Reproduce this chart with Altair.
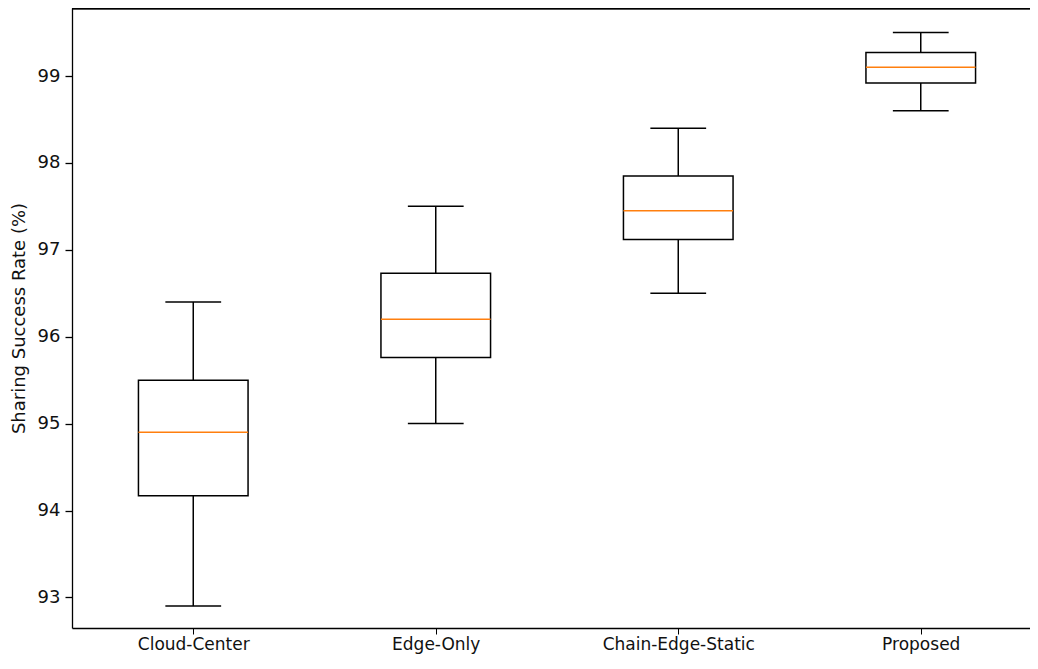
import altair as alt
import pandas as pd

categories = ["Cloud-Center", "Edge-Only", "Chain-Edge-Static", "Proposed"]
positions = [1, 2, 3, 4]
whisker_low = [92.9, 95.0, 96.5, 98.6]
q1 = [94.17, 95.76, 97.12, 98.92]
median = [94.9, 96.2, 97.45, 99.1]
q3 = [95.5, 96.73, 97.85, 99.27]
whisker_high = [96.4, 97.5, 98.4, 99.5]
y_ticks = [93, 94, 95, 96, 97, 98, 99]

df = pd.DataFrame({
    "cat": categories, "pos": positions, "lo": whisker_low, "q1": q1,
    "med": median, "q3": q3, "hi": whisker_high,
})

BOX_HALF = 0.226
CAP_HALF = 0.115
W, H = 958, 620

x_scale = alt.Scale(domain=[0.5, 4.4505], nice=False, zero=False)
y_scale = alt.Scale(domain=[92.648, 99.7825], nice=False, zero=False)

label_expr = ("datum.value == 1 ? 'Cloud-Center' : datum.value == 2 ? 'Edge-Only' : "
              "datum.value == 3 ? 'Chain-Edge-Static' : 'Proposed'")

FONT = "DejaVu Sans"
TXT = "#111111"

base = alt.Chart(df).transform_calculate(
    bl="datum.pos - %f" % BOX_HALF, br="datum.pos + %f" % BOX_HALF,
    cl="datum.pos - %f" % CAP_HALF, cr="datum.pos + %f" % CAP_HALF,
)

x_axis = alt.Axis(values=positions, labelExpr=label_expr, title=None, grid=False,
                  domain=True, domainColor="black", domainWidth=1.3,
                  ticks=True, tickColor="black", tickSize=6, labelPadding=2,
                  labelFont=FONT, labelFontSize=17, labelColor=TXT)
y_axis = alt.Axis(values=y_ticks, format=".0f", title="Sharing Success Rate (%)",
                  grid=False, domain=True, domainColor="black", domainWidth=1.3,
                  ticks=True, tickColor="black", tickWidth=1.3, tickSize=7,
                  labelPadding=5, labelFont=FONT, labelFontSize=18, labelColor=TXT,
                  titleFont=FONT, titleFontSize=18, titleFontWeight="normal",
                  titleColor=TXT, titlePadding=9)

X = lambda f: alt.X(f, scale=x_scale, axis=x_axis)
Y = lambda f: alt.Y(f, scale=y_scale, axis=y_axis)

lower = base.mark_rule(color="black", strokeWidth=1.5).encode(x=X("pos:Q"), y=Y("lo:Q"), y2="q1:Q")
upper = base.mark_rule(color="black", strokeWidth=1.5).encode(x=X("pos:Q"), y=Y("q3:Q"), y2="hi:Q")
cap_lo = base.mark_rule(color="black", strokeWidth=1.5).encode(x=X("cl:Q"), x2="cr:Q", y=Y("lo:Q"))
cap_hi = base.mark_rule(color="black", strokeWidth=1.5).encode(x=X("cl:Q"), x2="cr:Q", y=Y("hi:Q"))
box = base.mark_rect(fill="white", fillOpacity=0, stroke="black", strokeWidth=1.5).encode(
    x=X("bl:Q"), x2="br:Q", y=Y("q1:Q"), y2="q3:Q")
med = base.mark_rule(color="#ff7f0e", strokeWidth=1.5).encode(
    x=X("bl:Q"), x2="br:Q", y=Y("med:Q"))

# top spine of the frame (matplotlib-style box; the right spine lies outside the crop)
top_spine = alt.Chart(df).mark_rule(color="black", strokeWidth=1.3).encode(
    x=alt.value(0), x2=alt.value(W), y=alt.value(0.6))

chart = alt.layer(lower, upper, cap_lo, cap_hi, box, med, top_spine).properties(
    width=W, height=H,
    autosize=alt.AutoSizeParams(type="none"),
    padding={"left": 64, "top": 0, "right": 0, "bottom": 28},
    background="white",
).configure_view(stroke=None)

chart.save("out.html", embed_options={"renderer": "svg", "actions": False})
